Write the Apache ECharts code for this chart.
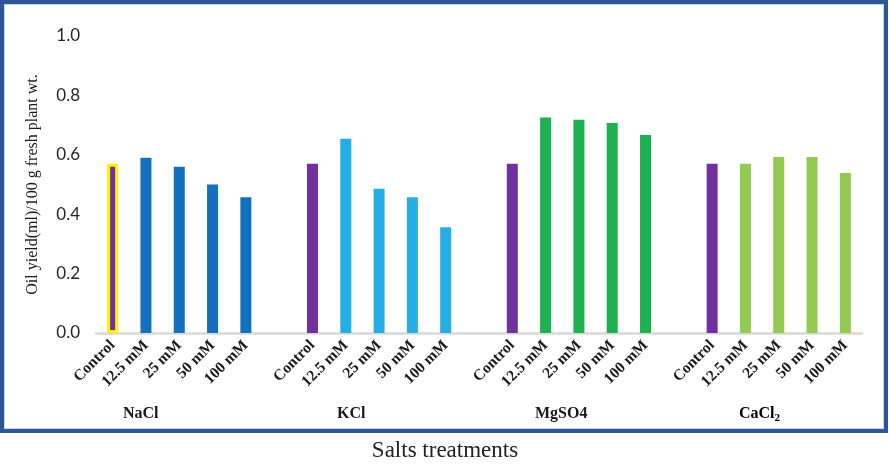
<!DOCTYPE html>
<html>
<head>
<meta charset="utf-8">
<script src="https://cdn.jsdelivr.net/npm/echarts@6/dist/echarts.min.js"></script>
<style>
html,body{margin:0;padding:0;background:#fff;}
#chart{width:890px;height:466px;}
</style>
</head>
<body>
<div id="chart"></div>
<script>
const groups = ['NaCl', 'KCl', 'MgSO4', 'CaCl2'];
const treatments = ['Control', '12.5 mM', '25 mM', '50 mM', '100 mM'];
const naclValues = [0.57, 0.59, 0.56, 0.50, 0.457];
const kclValues = [0.57, 0.654, 0.486, 0.457, 0.356];
const mgso4Values = [0.57, 0.726, 0.718, 0.707, 0.667];
const cacl2Values = [0.57, 0.57, 0.593, 0.593, 0.539];
const yTicks = [0.0, 0.2, 0.4, 0.6, 0.8, 1.0];

const groupValues = [naclValues, kclValues, mgso4Values, cacl2Values];
const groupColors = ['#1270BD', '#25AEE5', '#1EB14F', '#93CA50'];
const controlColor = '#7030A0';

const categories = [];
const data = [];
groupValues.forEach(function (vals, g) {
  vals.forEach(function (v, i) {
    categories.push(treatments[i]);
    const item = { value: v, itemStyle: { color: i === 0 ? controlColor : groupColors[g] } };
    if (g === 0 && i === 0) {
      item.itemStyle.borderColor = '#FFF200';
      item.itemStyle.borderWidth = 3;
    }
    data.push(item);
  });
  if (g < groupValues.length - 1) {
    categories.push('');
    data.push('-');
  }
});

const chart = echarts.init(document.getElementById('chart'));
const serif = '"Liberation Serif", "Times New Roman", serif';
chart.setOption({
  backgroundColor: '#fff',
  animation: false,
  grid: { left: 96, right: 28, top: 36, bottom: 133 },
  xAxis: {
    type: 'category',
    data: categories,
    axisLine: { lineStyle: { color: '#D9D9D9', width: 2.5 } },
    axisTick: { show: false },
    axisLabel: {
      interval: 0,
      rotate: 45,
      margin: 10,
      fontFamily: serif,
      fontWeight: 'bold',
      fontSize: 15.5,
      color: '#1a1a1a'
    }
  },
  yAxis: {
    type: 'value',
    min: yTicks[0],
    max: yTicks[yTicks.length - 1],
    interval: 0.2,
    name: 'Oil yield(ml)/100 g fresh plant wt.',
    nameLocation: 'middle',
    nameGap: 55,
    nameTextStyle: { fontFamily: serif, fontSize: 16, color: '#1a1a1a' },
    axisLine: { show: false },
    axisTick: { show: false },
    splitLine: { show: false },
    axisLabel: {
      margin: 16,
      fontFamily: 'Lato, "Open Sans", sans-serif',
      fontSize: 17,
      color: '#262626',
      formatter: function (v) { return v.toFixed(1); }
    }
  },
  series: [{
    type: 'bar',
    data: data,
    barWidth: 11
  }],
  graphic: [
    { type: 'rect', shape: { x: 2, y: 2, width: 884, height: 429 }, style: { fill: 'none', stroke: '#2E5696', lineWidth: 4 }, silent: true },
    { type: 'rect', shape: { x: 4.5, y: 4.5, width: 879, height: 424 }, style: { fill: 'none', stroke: '#C9D6E8', lineWidth: 1 }, silent: true },
    { type: 'text', left: 123, top: 406, style: { text: groups[0], font: 'bold 16px ' + serif, fill: '#1a1a1a' } },
    { type: 'text', left: 337, top: 406, style: { text: groups[1], font: 'bold 16px ' + serif, fill: '#1a1a1a' } },
    { type: 'text', left: 535, top: 406, style: { text: groups[2], font: 'bold 16px ' + serif, fill: '#1a1a1a' } },
    { type: 'text', left: 739, top: 406, style: {
        text: '{b|CaCl}{s|2}',
        rich: {
          b: { fontFamily: serif, fontWeight: 'bold', fontSize: 16, color: '#1a1a1a' },
          s: { fontFamily: serif, fontWeight: 'bold', fontSize: 11, color: '#1a1a1a', padding: [8, 0, 0, 0] }
        }
      } },
    { type: 'text', left: 'center', top: 439, style: { text: 'Salts treatments', font: '23px ' + serif, fill: '#222' } }
  ]
});
</script>
</body>
</html>
